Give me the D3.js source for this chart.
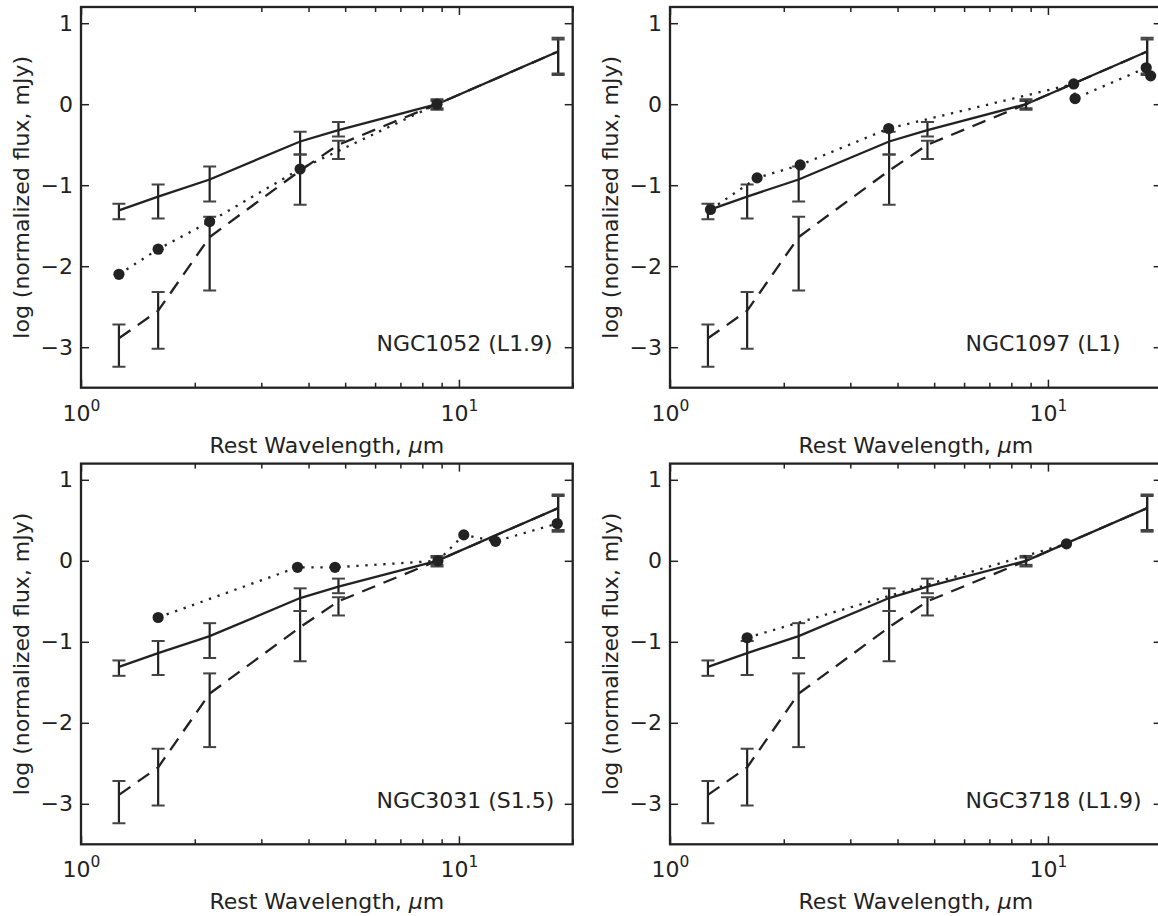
<!DOCTYPE html>
<html><head><meta charset="utf-8">
<script src="https://cdn.jsdelivr.net/npm/d3@7"></script>
<style>
body{margin:0;background:#fff;}
svg{display:block;font-family:"DejaVu Sans",sans-serif;}
</style>
</head><body>
<svg id="c" width="1158" height="916"></svg>
<script>
// ---- data ----
const bands = [1.26, 1.6, 2.19, 3.8, 4.8, 8.75, 18.3];
const solidY  = [-1.31, -1.14, -0.93, -0.46, -0.32, 0.00, 0.65];
const solidLo = [-1.42, -1.41, -1.20, -0.62, -0.40, -0.07, 0.38];
const solidHi = [-1.23, -0.99, -0.77, -0.34, -0.22, 0.06, 0.80];
const dashedY  = [-2.89, -2.55, -1.64, -0.82, -0.50, 0.00, 0.65];
const dashedLo = [-3.24, -3.02, -2.30, -1.24, -0.675, -0.05, 0.36];
const dashedHi = [-2.72, -2.32, -1.39, -0.62, -0.45, 0.04, 0.82];

const ngc1052X = [1.26, 1.6, 2.19, 3.8, 8.75];
const ngc1052Y = [-2.10, -1.79, -1.45, -0.80, 0.00];
const ngc1097X = [1.28, 1.70, 2.21, 3.79, 11.7, 11.8, 18.2, 18.7];
const ngc1097Y = [-1.30, -0.91, -0.75, -0.30, 0.25, 0.07, 0.45, 0.35];
const ngc3031X = [1.6, 3.74, 4.70, 8.8, 10.3, 12.5, 18.2];
const ngc3031Y = [-0.70, -0.08, -0.08, 0.00, 0.32, 0.24, 0.46];
const ngc3718X = [1.6, 11.2];
const ngc3718Y = [-0.95, 0.21];

const panelNames = ["NGC1052 (L1.9)", "NGC1097 (L1)", "NGC3031 (S1.5)", "NGC3718 (L1.9)"];
const yTicks = [-3, -2, -1, 0, 1];
const xMajor = [1, 10];
const xMinor = [2, 3, 4, 5, 6, 7, 8, 9, 20];
const xDomain = [1, 20];
const yDomain = [-3.5, 1.2];
const labelX = 6.05, labelY = -3.05;

// ---- layout ----
const W = 491.7, H = 380.7;
const ink = "#222";
const panels = [
  {name: panelNames[0], gx: ngc1052X, gy: ngc1052Y, left: 81,  top: 7},
  {name: panelNames[1], gx: ngc1097X, gy: ngc1097Y, left: 670, top: 7},
  {name: panelNames[2], gx: ngc3031X, gy: ngc3031Y, left: 81,  top: 463.6},
  {name: panelNames[3], gx: ngc3718X, gy: ngc3718Y, left: 670, top: 463.6}
];

const svg = d3.select("#c");
svg.append("rect").attr("width",1158).attr("height",916).attr("fill","#fff");

panels.forEach((p, pi) => {
  const g = svg.append("g").attr("transform", `translate(${p.left},${p.top})`);
  const x = d3.scaleLog().domain(xDomain).range([0, W]);
  const y = d3.scaleLinear().domain(yDomain).range([H, 0]);

  const clipId = "clip" + pi;
  g.append("clipPath").attr("id", clipId).append("rect").attr("width", W).attr("height", H);
  const plot = g.append("g").attr("clip-path", `url(#${clipId})`);

  const line = d3.line().x(d => x(d[0])).y(d => y(d[1]));

  // solid template
  plot.append("path").datum(bands.map((b,i)=>[b, solidY[i]]))
    .attr("d", line).attr("fill","none").attr("stroke", ink).attr("stroke-width", 2.3);
  // dashed template
  plot.append("path").datum(bands.map((b,i)=>[b, dashedY[i]]))
    .attr("d", line).attr("fill","none").attr("stroke", ink).attr("stroke-width", 2.3)
    .attr("stroke-dasharray", "14,9");

  // error bars
  const drawErr = (lo, hi) => {
    bands.forEach((b, i) => {
      const eg = plot.append("g");
      eg.append("line").attr("x1", x(b)).attr("x2", x(b))
        .attr("y1", y(lo[i])).attr("y2", y(hi[i]))
        .attr("stroke", ink).attr("stroke-width", 2.2);
      [lo[i], hi[i]].forEach(v => {
        eg.append("line").attr("x1", x(b) - 6.5).attr("x2", x(b) + 6.5)
          .attr("y1", y(v)).attr("y2", y(v))
          .attr("stroke", "#444").attr("stroke-width", 2);
      });
    });
  };
  drawErr(dashedLo, dashedHi);
  drawErr(solidLo, solidHi);

  // galaxy data: dotted line + dots
  const gd = p.gx.map((v,i)=>[v, p.gy[i]]);
  plot.append("path").datum(gd).attr("d", line).attr("fill","none")
    .attr("stroke", ink).attr("stroke-width", 2.3).attr("stroke-dasharray", "2.3,6.7");
  plot.selectAll("circle.pt").data(gd).enter().append("circle")
    .attr("class","pt").attr("cx", d=>x(d[0])).attr("cy", d=>y(d[1]))
    .attr("r", 5.6).attr("fill", ink);

  // axes (inward ticks on all four sides)
  const styleAxis = sel => {
    sel.select(".domain").remove();
    sel.selectAll(".tick line").attr("stroke", ink).attr("stroke-width", 1.5);
    sel.selectAll("text").attr("fill", ink).attr("font-size", 22).attr("font-family", "DejaVu Sans");
  };
  g.append("g").call(d3.axisLeft(y).tickValues(yTicks).tickSize(-8).tickPadding(8)
      .tickFormat(d3.format("d"))).call(styleAxis);
  g.append("g").attr("transform", `translate(${W},0)`)
    .call(d3.axisRight(y).tickValues(yTicks).tickSize(-8).tickFormat("")).call(styleAxis);

  const xb = g.append("g").attr("transform", `translate(0,${H})`)
    .call(d3.axisBottom(x).tickValues(xMajor).tickSize(-8).tickFormat(d => "10")).call(styleAxis);
  xb.selectAll("text").attr("y", 33).attr("dy", 0)
    .each(function(d){
      d3.select(this).append("tspan").attr("dy", -10).attr("font-size", 15.5)
        .text(Math.round(Math.log10(d)));
    });
  g.append("g").attr("transform", `translate(0,${H})`)
    .call(d3.axisBottom(x).tickValues(xMinor).tickSize(-5).tickFormat("")).call(styleAxis);
  g.append("g").call(d3.axisTop(x).tickValues(xMajor).tickSize(-8).tickFormat("")).call(styleAxis);
  g.append("g").call(d3.axisTop(x).tickValues(xMinor).tickSize(-5).tickFormat("")).call(styleAxis);

  // frame
  g.append("rect").attr("width", W).attr("height", H).attr("fill","none")
    .attr("stroke", ink).attr("stroke-width", 2.3);

  // annotation
  g.append("text").attr("x", x(labelX)).attr("y", y(labelY))
    .attr("font-size", 22).attr("fill", ink).text(p.name);

  // axis labels
  const xl = g.append("text").attr("x", W/2).attr("y", H + 65)
    .attr("text-anchor","middle").attr("font-size", 22).attr("fill", ink);
  xl.append("tspan").text("Rest Wavelength, ");
  xl.append("tspan").attr("font-style","italic").text("\u03bc");
  xl.append("tspan").text("m");

  g.append("text").attr("transform", `translate(-52.5,${H/2}) rotate(-90)`)
    .attr("text-anchor","middle").attr("font-size", 22).attr("fill", ink)
    .text("log (normalized flux, mJy)");
});
</script>
</body></html>
